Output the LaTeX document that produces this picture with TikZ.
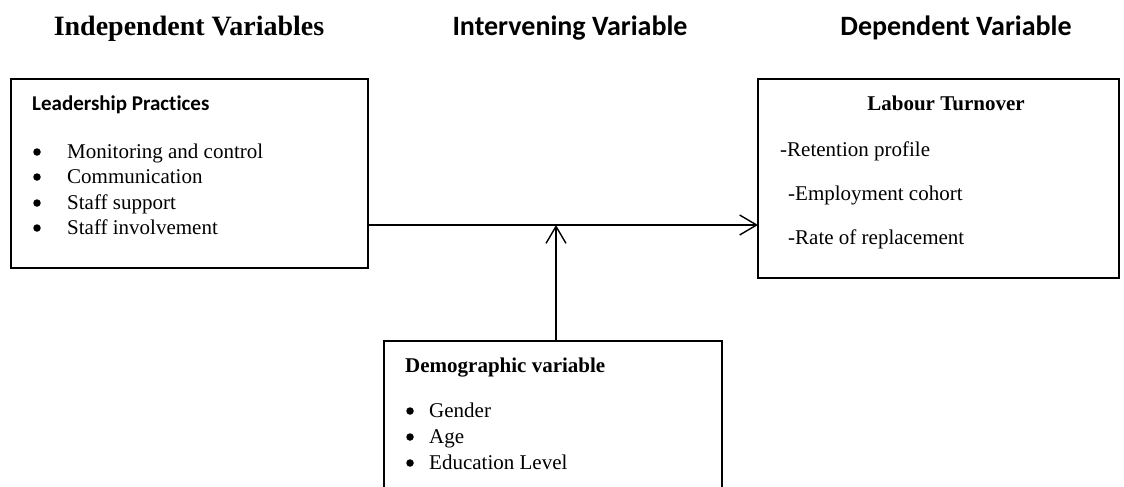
\documentclass[tikz,border=0pt]{standalone}
\usepackage{fontspec}
\setmainfont{Liberation Serif}
\newfontfamily\calibrifont[Ligatures=NoCommon]{Carlito}
\usetikzlibrary{arrows.meta}
\tikzset{
  box/.style={draw, line width=1.4pt},
  txt/.style={anchor=base west, inner sep=0pt, font=\fontsize{21}{25}\selectfont},
  bul/.style={circle, fill=black, inner sep=0pt, minimum size=7.5pt},
  ttl/.style={anchor=base, inner sep=0pt, font=\fontsize{28}{32}\selectfont\bfseries},
  conn/.style={line width=1.4pt, -{Straight Barb[length=17pt,width=20pt,line width=1.4pt]}}
}
\begin{document}
\begin{tikzpicture}[x=1pt,y=-1pt]
\clip (0,0) rectangle (1124,487);
\fill[white] (0,0) rectangle (1124,487);
% titles
\node[ttl] (t1) at (189,36) {Independent Variables};
\node[ttl, font=\fontsize{28}{32}\selectfont\calibrifont\bfseries] (t2) at (570,36) {Intervening Variable};
\node[ttl, font=\fontsize{28}{32}\selectfont\calibrifont\bfseries] (t3) at (956,36) {Dependent Variable};
% boxes
\draw[box] (11,79) rectangle (368,268);
\node[inner sep=0pt, minimum width=357pt, minimum height=189pt, anchor=north west] (lead) at (11,79) {};
\draw[box] (758,79) rectangle (1119,278);
\node[inner sep=0pt, minimum width=361pt, minimum height=199pt, anchor=north west] (lab) at (758,79) {};
\draw[box] (384,341) rectangle (722,520);
\node[inner sep=0pt, minimum width=338pt, minimum height=179pt, anchor=north west] (dem) at (384,341) {};
% left box text
\node[txt, font=\fontsize{21}{25}\selectfont\calibrifont\bfseries] (lh) at (32,110) {Leadership Practices};
\node[bul] (b1) at (37,152) {};
\node[txt] (l1) at (67,158) {Monitoring and control};
\node[bul] (b2) at (37,177) {};
\node[txt] (l2) at (67,183) {Communication};
\node[bul] (b3) at (37,203) {};
\node[txt] (l3) at (67,209) {Staff support};
\node[bul] (b4) at (37,228) {};
\node[txt] (l4) at (67,234) {Staff involvement};
% right box text
\node[txt, anchor=base, font=\fontsize{21}{25}\selectfont\bfseries] (rh) at (946,110) {Labour Turnover};
\node[txt] (r1) at (780,156) {-Retention profile};
\node[txt] (r2) at (788,200) {-Employment cohort};
\node[txt] (r3) at (788,244) {-Rate of replacement};
% demographic text
\node[txt, font=\fontsize{21}{25}\selectfont\bfseries] (dh) at (405,372) {Demographic variable};
\node[bul] (d1b) at (410,411) {};
\node[txt] (d1) at (429,417) {Gender};
\node[bul] (d2b) at (410,437) {};
\node[txt] (d2) at (429,443) {Age};
\node[bul] (d3b) at (410,463) {};
\node[txt] (d3) at (429,469) {Education Level};
% connectors
\coordinate (j) at (556,225);
\draw[conn] (lead.east |- j) -- (lab.west |- j);
\draw[conn] (dem.north -| j) -- (j);
\end{tikzpicture}
\end{document}
